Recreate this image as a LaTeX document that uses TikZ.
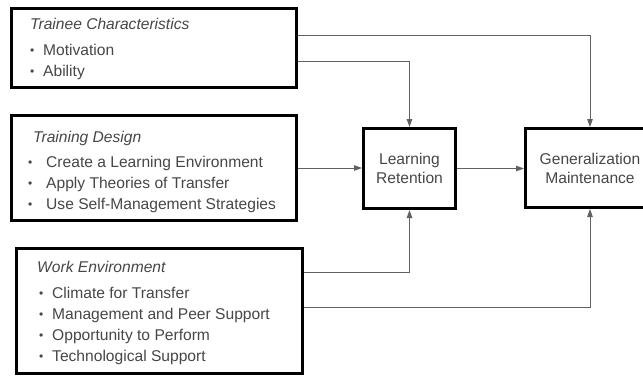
\documentclass[tikz,border=0pt]{standalone}
\usepackage{fontspec}
\setmainfont{Liberation Sans}
\usetikzlibrary{arrows.meta}
\begin{document}
\begin{tikzpicture}[x=1pt,y=-1pt,
  box/.style={draw=black,line width=3pt,fill=white,inner sep=0pt,outer sep=1.5pt,
    text=black!72,align=center,font=\fontsize{15.6}{19}\selectfont},
  conn/.style={draw=black!62,line width=0.9pt,-{Triangle[length=8pt,width=5.5pt]}},
  txt/.style={anchor=base west,inner sep=0pt,text=black!72,font=\fontsize{15.6}{19}\selectfont},
  ttl/.style={anchor=base west,inner sep=0pt,text=black!72,font=\fontsize{15.6}{19}\selectfont\itshape},
  bul/.style={anchor=base west,inner sep=0pt,text=black!72,font=\fontsize{12}{13}\selectfont}]
\useasboundingbox (0,0) rectangle (643,378);
\fill[white] (0,0) rectangle (643,378);

% boxes
\node[box,minimum width=285pt,minimum height=79pt] (tc) at (154,48) {};
\node[box,minimum width=285pt,minimum height=105pt] (td) at (154,168) {};
\node[box,minimum width=286pt,minimum height=125pt] (we) at (159.5,311) {};
\node[box,minimum width=92pt,minimum height=80pt] (lr) at (409.5,168.5) {Learning\\Retention};
\node[box,minimum width=129pt,minimum height=79pt] (gm) at (590,168) {Generalization\\Maintenance};

% Trainee Characteristics
\node[ttl] (tct) at (30,29) {Trainee Characteristics};
\node[bul] (tcb1) at (30,54) {•};
\node[txt] (tc1) at (43,55) {Motivation};
\node[bul] (tcb2) at (30,75) {•};
\node[txt] (tc2) at (43,76) {Ability};

% Training Design
\node[ttl] (tdt) at (33,142) {Training Design};
\node[bul] (tdb1) at (28,166) {•};
\node[txt] (td1) at (46,167) {Create a Learning Environment};
\node[bul] (tdb2) at (28,187) {•};
\node[txt] (td2) at (46,188) {Apply Theories of Transfer};
\node[bul] (tdb3) at (28,208) {•};
\node[txt] (td3) at (46,209) {Use Self-Management Strategies};

% Work Environment
\node[ttl] (wet) at (37,272) {Work Environment};
\node[bul] (web1) at (39,297) {•};
\node[txt] (we1) at (52,298) {Climate for Transfer};
\node[bul] (web2) at (39,318) {•};
\node[txt] (we2) at (52,319) {Management and Peer Support};
\node[bul] (web3) at (39,339) {•};
\node[txt] (we3) at (52,340) {Opportunity to Perform};
\node[bul] (web4) at (39,360) {•};
\node[txt] (we4) at (52,361) {Technological Support};

% connectors
\draw[conn] (tc.east |- 0,35) -| (gm.north);
\draw[conn] (tc.east |- 0,61) -| (lr.north);
\draw[conn] (td.east) -- (td.east -| lr.west);
\draw[conn] (lr.east) -- (lr.east -| gm.west);
\draw[conn] (we.east |- 0,272) -| (lr.south);
\draw[conn] (we.east |- 0,307) -| (gm.south);
\end{tikzpicture}
\end{document}
